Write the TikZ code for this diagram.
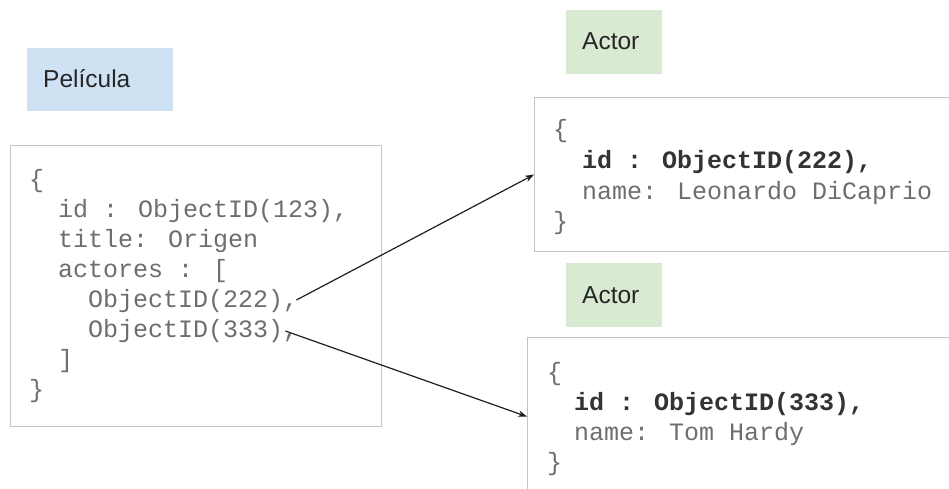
\documentclass[tikz,border=0pt]{standalone}
\usepackage{fontspec}
\setmainfont{Liberation Sans}
\newfontfamily\codefont{Liberation Mono}
\usetikzlibrary{arrows.meta}
\definecolor{lblue}{HTML}{CFE2F3}
\definecolor{lgreen}{HTML}{D9EAD3}
\definecolor{boxline}{HTML}{C4C4C4}
\definecolor{codegray}{HTML}{6E6E6E}
\definecolor{codedark}{HTML}{333333}
\definecolor{arrowcol}{HTML}{1F1F1F}
\tikzset{
  label box/.style={fill=#1, draw=none},
  doc box/.style={draw=boxline, line width=1.2pt, fill=white},
  lbl/.style={anchor=base west, inner sep=0pt, font=\fontsize{24.5}{29}\selectfont, text=black!85},
  code/.style={anchor=base west, inner sep=0pt, font=\codefont\fontsize{25}{30}\selectfont, text=codegray},
  codeb/.style={anchor=base west, inner sep=0pt, font=\codefont\bfseries\fontsize{25}{30}\selectfont, text=codedark},
  ref/.style={draw=arrowcol, line width=1.2pt, -{Stealth[length=9pt,width=6.5pt]}}
}
\begin{document}
\begin{tikzpicture}[x=1pt,y=-1pt]
\useasboundingbox (0,0) rectangle (949,489);
\clip (0,0) rectangle (949,489);
\fill[white] (0,0) rectangle (949,489);

% label boxes
\path[label box=lblue] (27,48) rectangle (173,111);
\node[lbl] (pel) at (43,88) {Película};
\path[label box=lgreen] (566,10) rectangle (662,74);
\node[lbl] (act1) at (582,50) {Actor};
\path[label box=lgreen] (566,263) rectangle (662,327);
\node[lbl] (act2) at (582,303) {Actor};

% document boxes
\node[doc box, minimum width=371pt, minimum height=281pt, anchor=north west, inner sep=0pt] (movie) at (10,145) {};
\node[doc box, minimum width=440pt, minimum height=154pt, anchor=north west, inner sep=0pt] (actorA) at (534,97) {};
\node[doc box, minimum width=440pt, minimum height=158pt, anchor=north west, inner sep=0pt] (actorB) at (527,337) {};

% movie text
\node[code] (m0) at (29,187) {\{};
\node[code] (m1) at (58,217) {id : ObjectID(123),};
\node[code] (m2) at (58,247) {title: Origen};
\node[code] (m3) at (58,277) {actores : [};
\node[code] (m4) at (88,307) {ObjectID(222),};
\node[code] (m5) at (88,337) {ObjectID(333),};
\node[code] (m6) at (58,367) {]};
\node[code] (m7) at (29,397) {\}};

% actor A text
\node[code] (a0) at (553,138) {\{};
\node[codeb] (a1) at (582,168) {id : ObjectID(222),};
\node[code] (a2) at (582,199) {name: Leonardo DiCaprio};
\node[code] (a3) at (553,229) {\}};

% actor B text
\node[code] (b0) at (547,380) {\{};
\node[codeb] (b1) at (574,410) {id : ObjectID(333),};
\node[code] (b2) at (574,440) {name: Tom Hardy};
\node[code] (b3) at (547,470) {\}};

% connectors
\coordinate (s1) at ([xshift=-2pt,yshift=7pt]m4.base east);
\coordinate (s2) at ([xshift=-13pt,yshift=6pt]m5.base east);
\draw[ref] (s1) -- (actorA.west);
\draw[ref] (s2) -- (actorB.west);
\end{tikzpicture}
\end{document}
